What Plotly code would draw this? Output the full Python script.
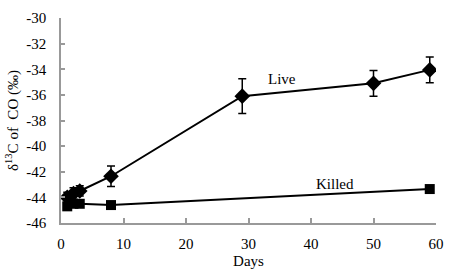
import plotly.graph_objects as go

live_days = [1, 2, 3, 8, 29, 50, 59]
live_vals = [-44.0, -43.7, -43.5, -42.35, -36.1, -35.1, -34.05]
live_err = [0.4, 0.45, 0.4, 0.8, 1.35, 1.0, 1.0]

killed_days = [1, 2, 3, 8, 59]
killed_vals = [-44.7, -44.5, -44.5, -44.6, -43.35]

x_ticks = [0, 10, 20, 30, 40, 50, 60]
x_labels = ["0", "10", "20", "30", "40", "50", "60"]
y_ticks = [-46, -44, -42, -40, -38, -36, -34, -32, -30]
y_labels = ["-46", "-44", "-42", "-40", "-38", "-36", "-34", "-32", "-30"]

font = "Liberation Serif, Times New Roman, serif"

fig = go.Figure()
fig.add_trace(go.Scatter(
    x=killed_days, y=killed_vals, mode="lines+markers",
    line=dict(color="black", width=2),
    marker=dict(symbol="square", size=10, color="black"),
    showlegend=False))
fig.add_trace(go.Scatter(
    x=live_days, y=live_vals, mode="lines+markers",
    line=dict(color="black", width=2),
    marker=dict(symbol="diamond", size=12, color="black"),
    error_y=dict(type="data", array=live_err, visible=True, color="black", thickness=1.5, width=4),
    showlegend=False))

fig.add_annotation(x=35.4, y=-34.75, text="Live", showarrow=False,
                   font=dict(family=font, size=15, color="black"))
fig.add_annotation(x=43.8, y=-42.93, text="Killed", showarrow=False,
                   font=dict(family=font, size=15, color="black"))

fig.update_layout(
    width=454, height=278,
    margin=dict(l=61, r=13, t=10, b=55),
    paper_bgcolor="white", plot_bgcolor="white",
    font=dict(family=font, size=15, color="black"),
)
fig.update_xaxes(
    range=[0, 60], tickvals=x_ticks, ticktext=x_labels, showgrid=False, zeroline=False,
    showline=True, linecolor="#999999", linewidth=1.5,
    ticks="inside", ticklen=5, tickcolor="#999999", tickwidth=1.5,
    ticklabelstandoff=6, ticklabeloverflow="allow",
    tickfont=dict(family=font, size=15, color="black"),
    title=dict(text="Days", font=dict(family=font, size=15, color="black"), standoff=5),
)
fig.update_yaxes(
    range=[-46, -30], tickvals=y_ticks, ticktext=y_labels, showgrid=False, zeroline=False,
    showline=True, linecolor="#999999", linewidth=1.5,
    ticks="inside", ticklen=4, tickcolor="#999999", tickwidth=1.5,
    ticklabelstandoff=10, ticklabeloverflow="allow",
    tickfont=dict(family=font, size=15, color="black"),
    title=dict(text="δ<sup>13</sup>C of  CO (‰)", font=dict(family=font, size=15, color="black"), standoff=4),
)

fig.write_html("out.html", config={"displayModeBar": False},
               post_script="document.body.style.margin='0';")
